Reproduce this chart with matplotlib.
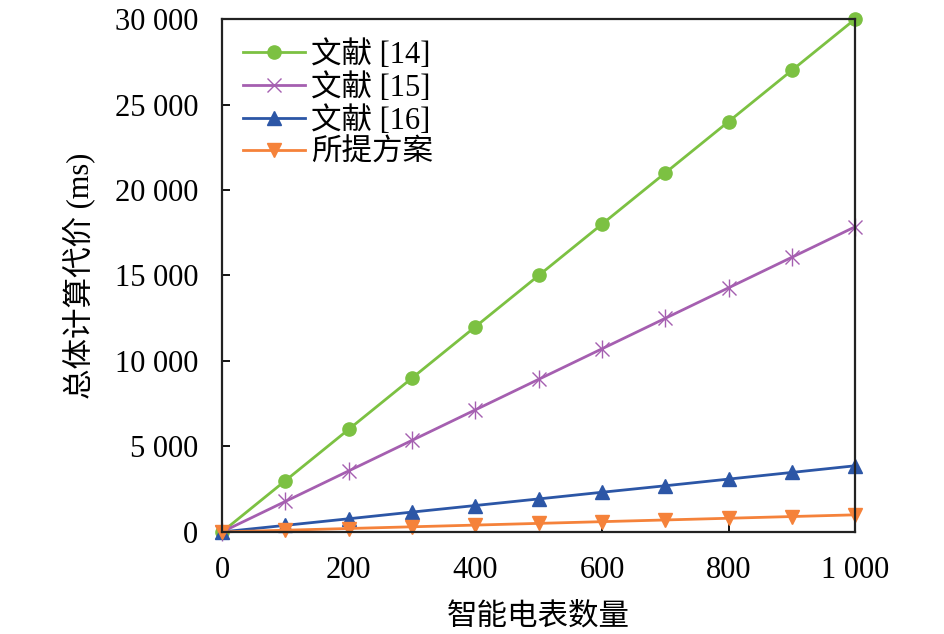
import numpy as np
import matplotlib.pyplot as plt
from matplotlib.ticker import FuncFormatter

plt.rcParams['font.family'] = ['Liberation Serif', 'Noto Sans CJK SC']

meters = [0, 100, 200, 300, 400, 500, 600, 700, 800, 900, 1000]
ref14 = [0, 3000, 6000, 9000, 12000, 15000, 18000, 21000, 24000, 27000, 30000]
ref15 = [0, 1785, 3570, 5355, 7140, 8925, 10710, 12495, 14280, 16065, 17850]
ref16 = [0, 385, 770, 1160, 1545, 1930, 2320, 2700, 3090, 3480, 3870]
ours = [0, 100, 200, 300, 400, 500, 600, 700, 800, 900, 1000]

labels = ['文献 [14]', '文献 [15]', '文献 [16]', '所提方案']


def thousands(v, pos):
    return f"{int(v):,}".replace(",", " ")


fig = plt.figure(figsize=(9.45, 6.34), dpi=100)
ax = fig.add_axes([0.235, 0.161, 0.670, 0.809])

kw = dict(linewidth=2.0, clip_on=False)
ax.plot(meters, ref14, color="#7cc142", marker="o", markersize=9.5, label=labels[0], **kw)
ax.plot(meters, ref15, color="#a55fb0", marker="x", markersize=10, label=labels[1], **kw)
ax.plot(meters, ref15, color="#a55fb0", marker="|", markersize=13, linewidth=0, clip_on=False)
ax.plot(meters, ref16, color="#2c56a6", marker="^", markersize=10.5, label=labels[2], **kw)
ax.plot(meters, ours, color="#f5823a", marker="v", markersize=10.5, label=labels[3], **kw)

ax.set_xlim(0, 1000)
ax.set_ylim(0, 30000)
ax.set_xticks(range(0, 1001, 200))
ax.set_yticks(range(0, 30001, 5000))
ax.xaxis.set_major_formatter(FuncFormatter(thousands))
ax.yaxis.set_major_formatter(FuncFormatter(thousands))
ax.tick_params(direction="in", labelsize=22, length=6, width=1.3, pad=17)
for s in ax.spines.values():
    s.set_linewidth(1.6)
    s.set_color("#222222")

ax.set_xlabel("智能电表数量", fontsize=22, labelpad=13)
ax.set_ylabel("总体计算代价 (ms)", fontsize=22, labelpad=14)

ax.legend(loc="upper left", frameon=False, fontsize=22, handlelength=2.0,
          labelspacing=0.1, borderaxespad=0.3, handletextpad=0.2)

fig.savefig("out.png")
